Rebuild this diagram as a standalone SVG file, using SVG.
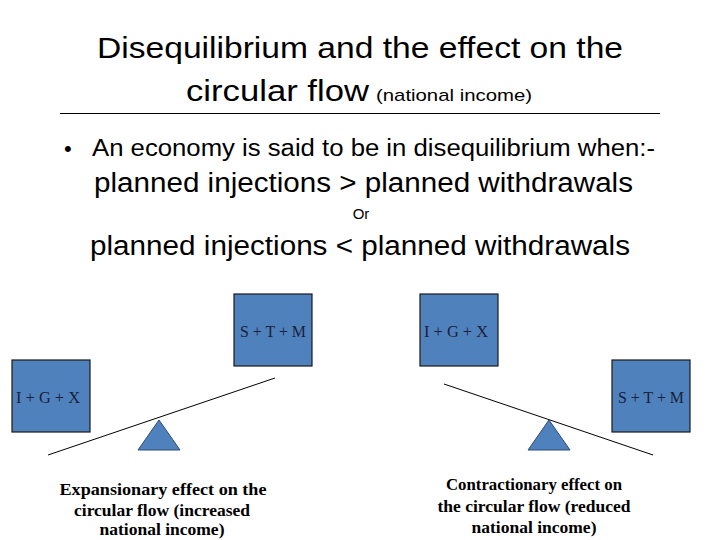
<svg xmlns="http://www.w3.org/2000/svg" width="720" height="540" viewBox="0 0 720 540">
<style>
.title{font-family:"Liberation Sans",Arial,sans-serif;font-size:30px;fill:#000;text-anchor:middle}
.body{font-family:"Liberation Sans",Arial,sans-serif;fill:#000}
.box{fill:#4F81BD;stroke:#1a1a1a;stroke-width:1.2}
.boxtxt{font-family:"Liberation Serif","Times New Roman",serif;font-size:17px;fill:#1a1f3a;text-anchor:middle}
.tri{fill:#4F81BD;stroke:#2a4a7a;stroke-width:1}
.beam{stroke:#000;stroke-width:1;fill:none}
.cap{font-family:"Liberation Serif","Times New Roman",serif;font-size:17.5px;font-weight:bold;fill:#000;text-anchor:middle}
</style>
<rect width="720" height="540" fill="#fff"/>
<g id="title">
<text class="title" x="360" y="58" textLength="526" lengthAdjust="spacingAndGlyphs">Disequilibrium and the effect on the</text>
<text class="title" x="186" y="101" style="text-anchor:start" textLength="183" lengthAdjust="spacingAndGlyphs">circular flow</text>
<text class="body" x="376" y="101" font-size="17" textLength="156" lengthAdjust="spacingAndGlyphs">(national income)</text>
<line x1="60" y1="113.5" x2="660" y2="113.5" stroke="#000" stroke-width="1"/>
</g>
<g id="bullets">
<text class="body" x="64" y="156" font-size="22">•</text>
<text class="body" x="92" y="156" font-size="23" textLength="563" lengthAdjust="spacingAndGlyphs">An economy is said to be in disequilibrium when:-</text>
<text class="body" x="94" y="192" font-size="27" textLength="539" lengthAdjust="spacingAndGlyphs">planned injections &gt; planned withdrawals</text>
<text class="body" x="361" y="219" font-size="15" fill="#222" text-anchor="middle">Or</text>
<text class="body" x="90" y="255" font-size="27" textLength="540" lengthAdjust="spacingAndGlyphs">planned injections &lt; planned withdrawals</text>
</g>
<g id="connectors">
<line class="beam" x1="48" y1="455" x2="275" y2="378"/>
<line class="beam" x1="444" y1="384" x2="653" y2="455"/>
</g>
<g id="left-stm">
<rect class="box" x="234" y="294" width="78" height="72"/>
<text class="boxtxt" x="273" y="337" textLength="66" lengthAdjust="spacingAndGlyphs">S + T + M</text>
</g>
<g id="left-igx">
<rect class="box" x="12" y="360" width="78" height="72"/>
<text class="boxtxt" x="48" y="403" textLength="64" lengthAdjust="spacingAndGlyphs">I + G + X</text>
</g>
<g id="left-fulcrum">
<polygon class="tri" points="159,420 138,450 180,450"/>
</g>
<g id="right-igx">
<rect class="box" x="420" y="294" width="78" height="72"/>
<text class="boxtxt" x="456" y="337" textLength="64" lengthAdjust="spacingAndGlyphs">I + G + X</text>
</g>
<g id="right-stm">
<rect class="box" x="612" y="360" width="78" height="72"/>
<text class="boxtxt" x="651" y="403" textLength="66" lengthAdjust="spacingAndGlyphs">S + T + M</text>
</g>
<g id="right-fulcrum">
<polygon class="tri" points="549,420 528,450 570,450"/>
</g>
<g id="left-caption">
<text class="cap" x="163" y="495" textLength="207" lengthAdjust="spacingAndGlyphs">Expansionary effect on the</text>
<text class="cap" x="162" y="516">circular flow (increased</text>
<text class="cap" x="162" y="535">national income)</text>
</g>
<g id="right-caption">
<text class="cap" x="534" y="490" textLength="176" lengthAdjust="spacingAndGlyphs">Contractionary effect on</text>
<text class="cap" x="534" y="512">the circular flow (reduced</text>
<text class="cap" x="534" y="533">national income)</text>
</g>
</svg>
